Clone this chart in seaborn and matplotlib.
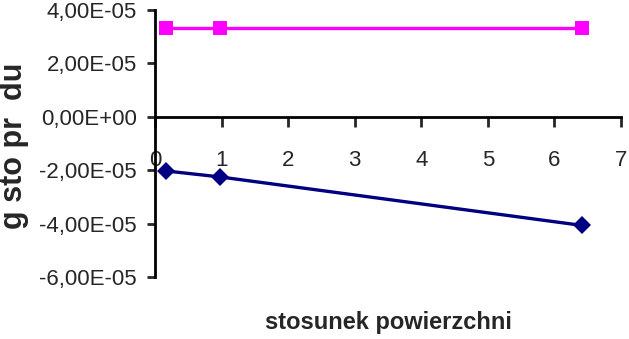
import matplotlib
matplotlib.use("Agg")
import matplotlib.pyplot as plt
import seaborn as sns
import pandas as pd
from matplotlib.ticker import FuncFormatter

x_vals = [0.17, 0.97, 6.42]
pink_vals = [3.33e-05, 3.33e-05, 3.33e-05]
blue_vals = [-2.03e-05, -2.25e-05, -4.07e-05]
x_ticks = [0, 1, 2, 3, 4, 5, 6, 7]
y_ticks = [-6e-05, -4e-05, -2e-05, 0.0, 2e-05, 4e-05]
x_label = "stosunek powierzchni"
y_label = "g sto pr  du"

sns.set_style("white")
plt.rcParams['font.family'] = ['Liberation Sans', 'DejaVu Sans']

df_pink = pd.DataFrame({"x": x_vals, "y": pink_vals})
df_blue = pd.DataFrame({"x": x_vals, "y": blue_vals})

fig = plt.figure(figsize=(6.29, 3.39), dpi=100)
ax = fig.add_axes([155/629, 1-277/339, (621-155)/629, (277-10)/339])

sns.lineplot(data=df_pink, x="x", y="y", ax=ax, color="#FF00FF", marker="s",
             markersize=10, markeredgewidth=0, linewidth=2.4)
sns.lineplot(data=df_blue, x="x", y="y", ax=ax, color="#000080", marker="D",
             markersize=9, markeredgewidth=0, linewidth=2.4)

ax.set_xlim(0, 7)
ax.set_ylim(-6e-05, 4e-05)
ax.set_xticks(x_ticks)
ax.set_yticks(y_ticks)
ax.yaxis.set_major_formatter(FuncFormatter(lambda v, p: f"{v:.2E}".replace('.', ',') if abs(v) > 1e-12 else "0,00E+00"))
ax.set_xlabel("")
ax.set_ylabel("")

for s in ["top", "right"]:
    ax.spines[s].set_visible(False)
ax.spines["bottom"].set_position(("data", 0))
ax.spines["bottom"].set_linewidth(2)
ax.spines["left"].set_linewidth(2)
ax.spines["bottom"].set_color("black")
ax.spines["left"].set_color("black")

ax.tick_params(axis="y", direction="out", length=6, width=2, pad=7, labelsize=16, left=True)
ax.tick_params(axis="x", direction="out", length=7, width=2, pad=17, labelsize=16, bottom=True)

fig.text(388/629, 1-323/339, x_label, ha="center", va="center", fontsize=17, fontweight="bold")
fig.text(14/629, 1-146/339, y_label, ha="center", va="center", fontsize=22, fontweight="bold", rotation=90)

fig.savefig("out.png", dpi=100)
